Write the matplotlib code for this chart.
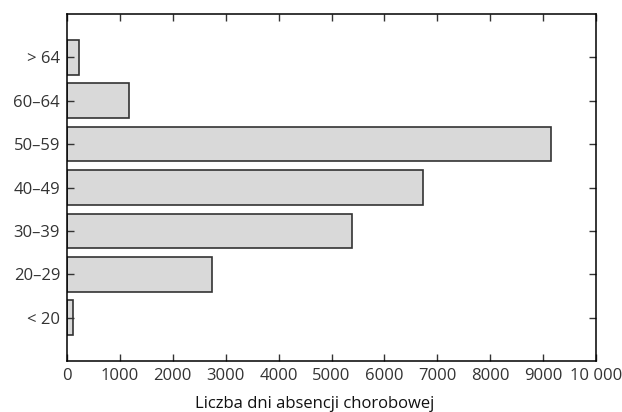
import numpy as np
import matplotlib.pyplot as plt
from matplotlib.ticker import FuncFormatter

plt.rcParams['font.family'] = ['Open Sans', 'DejaVu Sans']

# age groups, bottom to top
groups = ['< 20', '20–29', '30–39', '40–49', '50–59', '60–64', '> 64']
days = [115, 2740, 5390, 6730, 9150, 1170, 225]
xticks = np.arange(0, 10001, 1000)

def fmt(v, pos):
    v = int(v)
    if v >= 10000:
        return '{:,}'.format(v).replace(',', ' ')
    return str(v)

fig = plt.figure(figsize=(6.22, 4.12), dpi=100)
ax = fig.add_axes([67/622, 51/412, 529/622, 347/412])
y = np.arange(len(groups))
ax.barh(y, days, height=0.8, color='#d9d9d9', edgecolor='#333333', linewidth=1.2)
ax.set_xlim(0, 10000)
ax.set_ylim(-1, 7)
ax.set_yticks(y)
ax.set_yticklabels(groups)
ax.set_xticks(xticks)
ax.xaxis.set_major_formatter(FuncFormatter(fmt))
ax.tick_params(direction='in', top=True, right=True, length=5, width=1,
               labelsize=12, colors='#333333', labelcolor='#333333', pad=5)
for s in ax.spines.values():
    s.set_linewidth(1.1)
ax.set_xlabel('Liczba dni absencji chorobowej', fontsize=12, color='#111111')
ax.xaxis.set_label_coords(0.469, -0.1)
plt.savefig('out.png')
